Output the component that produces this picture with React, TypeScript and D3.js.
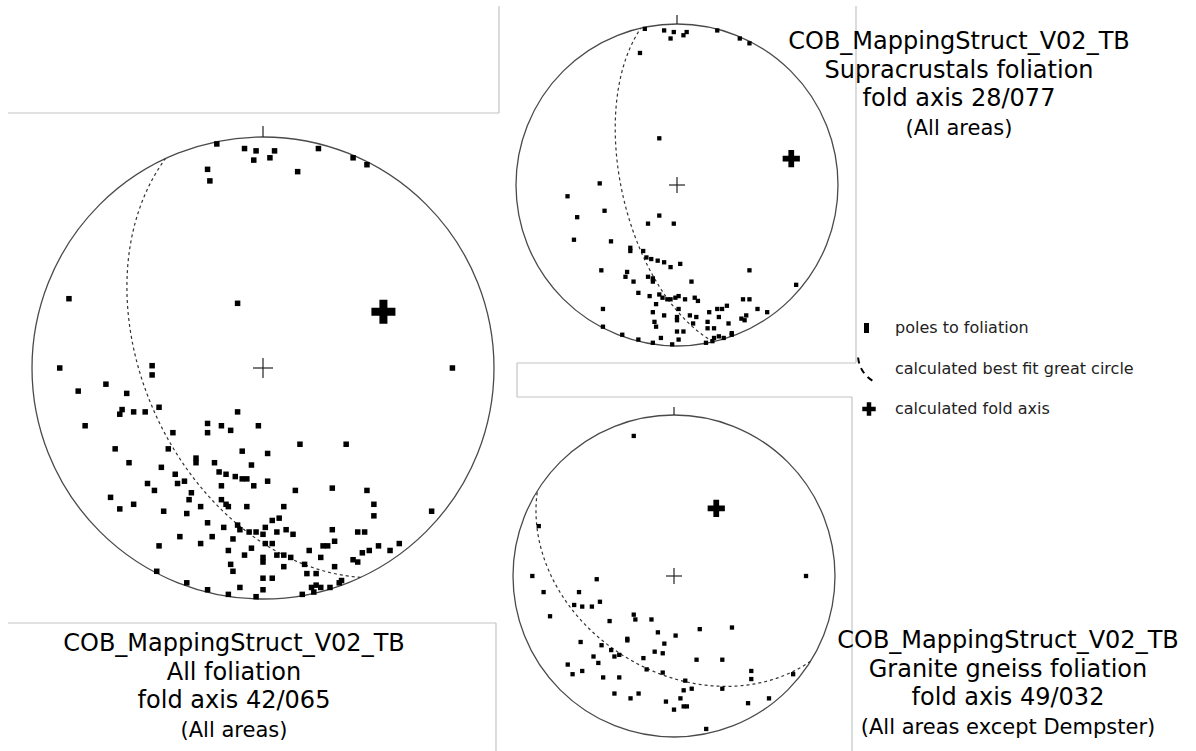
import * as React from "react";
import * as d3 from "d3";

const WIDTH = 1196;
const HEIGHT = 751;
const FONT = "'DejaVu Sans', sans-serif";

// fold axes as printed on each net: [plunge, trend]
const allAxis: [number, number] = [42, 65];
const supraAxis: [number, number] = [28, 77];
const graniteAxis: [number, number] = [49, 32];

// poles to foliation: [east, north] in units of the net radius
const allPoles: [number, number][] = [
  [-0.20, 0.97], [-0.08, 0.95], [-0.03, 0.94], [0.05, 0.94], [-0.04, 0.90], [0.03, 0.91], [-0.24, 0.86], [-0.23, 0.81],
  [0.15, 0.85], [0.24, 0.95], [0.39, 0.91], [0.45, 0.88], [-0.84, 0.30], [-0.11, 0.28], [-0.88, 0.00], [-0.48, 0.01],
  [-0.48, -0.03], [0.82, 0.00], [-0.80, -0.10], [-0.68, -0.07], [-0.59, -0.11], [-0.61, -0.18], [-0.62, -0.20], [-0.56, -0.19],
  [-0.51, -0.19], [-0.45, -0.17], [-0.77, -0.25], [-0.64, -0.35], [-0.39, -0.28], [-0.41, -0.35], [-0.58, -0.41], [-0.44, -0.43],
  [-0.11, -0.19], [-0.24, -0.24], [-0.24, -0.28], [-0.18, -0.25], [-0.14, -0.27], [-0.02, -0.25], [0.16, -0.33], [0.36, -0.33],
  [-0.09, -0.36], [0.02, -0.37], [-0.29, -0.39], [-0.29, -0.41], [-0.21, -0.41], [-0.05, -0.42], [-0.38, -0.46], [-0.19, -0.45],
  [-0.16, -0.46], [-0.12, -0.47], [-0.09, -0.48], [-0.07, -0.48], [-0.04, -0.51], [0.02, -0.49], [-0.18, -0.51], [-0.37, -0.50],
  [-0.34, -0.49], [-0.50, -0.50], [-0.47, -0.53], [-0.66, -0.56], [-0.56, -0.59], [-0.62, -0.61], [-0.43, -0.62], [-0.31, -0.54],
  [-0.32, -0.57], [-0.33, -0.63], [-0.27, -0.60], [-0.18, -0.57], [-0.16, -0.59], [-0.15, -0.60], [-0.07, -0.60], [0.09, -0.60],
  [0.14, -0.53], [0.30, -0.52], [0.45, -0.53], [0.48, -0.59], [0.48, -0.64], [0.73, -0.62], [-0.24, -0.67], [-0.17, -0.69],
  [-0.11, -0.68], [-0.10, -0.70], [-0.06, -0.71], [-0.03, -0.71], [0.01, -0.69], [0.00, -0.72], [0.04, -0.66], [0.07, -0.65],
  [0.06, -0.71], [0.10, -0.70], [0.13, -0.72], [0.30, -0.70], [0.41, -0.71], [0.44, -0.71], [-0.36, -0.73], [-0.45, -0.77],
  [-0.27, -0.76], [-0.22, -0.73], [-0.13, -0.74], [0.01, -0.76], [0.04, -0.76], [-0.15, -0.79], [-0.05, -0.78], [-0.08, -0.81],
  [0.00, -0.82], [0.00, -0.84], [0.06, -0.81], [0.09, -0.81], [0.12, -0.82], [0.09, -0.86], [0.20, -0.79], [0.26, -0.77],
  [0.28, -0.77], [0.31, -0.75], [0.25, -0.82], [0.18, -0.85], [0.31, -0.86], [0.39, -0.83], [0.41, -0.84], [0.43, -0.80],
  [0.46, -0.79], [0.50, -0.77], [0.55, -0.79], [0.59, -0.76], [-0.14, -0.85], [-0.13, -0.88], [0.00, -0.91], [0.04, -0.91],
  [0.19, -0.89], [0.23, -0.89], [0.34, -0.92], [0.33, -0.93], [-0.10, -0.95], [0.00, -0.96], [0.21, -0.95], [0.23, -0.94],
  [0.25, -0.95], [0.22, -0.97], [0.29, -0.95], [0.17, -0.98], [-0.03, -0.99], [-0.15, -0.98], [-0.24, -0.96], [-0.33, -0.93],
  [-0.46, -0.88],
];

const supraPoles: [number, number][] = [
  [-0.20, 0.97], [-0.08, 0.96], [-0.02, 0.95], [0.06, 0.95], [-0.04, 0.91], [0.04, 0.93], [0.25, 0.96], [0.39, 0.91],
  [0.45, 0.88], [-0.23, 0.82], [-0.11, 0.29], [-0.48, 0.01], [-0.68, -0.07], [-0.62, -0.20], [-0.45, -0.16], [-0.64, -0.34],
  [-0.41, -0.35], [-0.18, -0.24], [-0.11, -0.19], [-0.02, -0.24], [-0.29, -0.39], [-0.29, -0.41], [-0.21, -0.41], [-0.19, -0.45],
  [-0.16, -0.46], [-0.12, -0.47], [-0.08, -0.48], [-0.04, -0.51], [0.02, -0.49], [-0.47, -0.53], [-0.31, -0.54], [-0.32, -0.57],
  [-0.27, -0.60], [-0.18, -0.57], [-0.15, -0.58], [-0.15, -0.60], [0.09, -0.60], [0.45, -0.53], [0.74, -0.62], [-0.24, -0.67],
  [-0.17, -0.69], [-0.11, -0.68], [-0.09, -0.70], [-0.06, -0.71], [-0.04, -0.71], [-0.01, -0.70], [0.01, -0.69], [0.05, -0.71],
  [0.11, -0.70], [0.13, -0.72], [0.41, -0.71], [0.45, -0.71], [-0.13, -0.74], [-0.46, -0.77], [-0.15, -0.79], [-0.08, -0.81],
  [0.00, -0.82], [0.00, -0.84], [0.01, -0.77], [0.08, -0.81], [0.12, -0.82], [0.10, -0.86], [0.20, -0.79], [0.25, -0.77],
  [0.28, -0.77], [0.31, -0.75], [0.26, -0.82], [0.19, -0.85], [0.32, -0.86], [0.40, -0.83], [0.42, -0.84], [0.43, -0.81],
  [0.50, -0.77], [0.56, -0.79], [-0.14, -0.85], [-0.13, -0.88], [0.19, -0.89], [0.23, -0.89], [0.00, -0.91], [0.04, -0.91],
  [0.01, -0.96], [-0.10, -0.95], [-0.03, -0.99], [-0.15, -0.98], [-0.24, -0.96], [-0.34, -0.93], [-0.46, -0.88], [0.18, -0.98],
  [0.23, -0.95], [0.22, -0.97], [0.26, -0.94], [0.29, -0.95], [0.34, -0.92], [0.34, -0.93],
];

const granitePoles: [number, number][] = [
  [-0.25, 0.87], [-0.84, 0.31], [-0.88, 0.00], [-0.48, -0.02], [0.82, 0.00], [-0.81, -0.10], [-0.59, -0.10], [-0.62, -0.18],
  [-0.57, -0.19], [-0.51, -0.19], [-0.46, -0.16], [-0.77, -0.25], [-0.40, -0.28], [-0.25, -0.24], [-0.24, -0.27], [-0.14, -0.27],
  [-0.58, -0.41], [-0.29, -0.39], [-0.29, -0.40], [-0.10, -0.35], [0.01, -0.37], [0.16, -0.33], [0.36, -0.32], [-0.45, -0.43],
  [-0.39, -0.46], [-0.37, -0.50], [-0.34, -0.49], [-0.50, -0.50], [-0.47, -0.54], [-0.66, -0.55], [-0.57, -0.59], [-0.63, -0.61],
  [-0.44, -0.63], [-0.34, -0.63], [-0.19, -0.51], [-0.17, -0.58], [-0.12, -0.47], [-0.07, -0.48], [-0.06, -0.42], [-0.07, -0.60],
  [0.14, -0.52], [0.30, -0.52], [0.07, -0.65], [0.06, -0.71], [0.11, -0.70], [0.30, -0.70], [0.48, -0.59], [0.48, -0.64],
  [0.74, -0.61], [-0.37, -0.73], [-0.27, -0.76], [-0.22, -0.73], [-0.05, -0.78], [0.00, -0.83], [0.04, -0.76], [0.06, -0.81],
  [0.08, -0.81], [0.46, -0.79], [0.59, -0.76], [0.20, -0.95],
];

const allTitle = ["COB_MappingStruct_V02_TB", "All foliation", "fold axis 42/065", "(All areas)"];
const supraTitle = ["COB_MappingStruct_V02_TB", "Supracrustals foliation", "fold axis 28/077", "(All areas)"];
const graniteTitle = ["COB_MappingStruct_V02_TB", "Granite gneiss foliation", "fold axis 49/032", "(All areas except Dempster)"];

const legendLabels = ["poles to foliation", "calculated best fit great circle", "calculated fold axis"];

// light grey frame lines left over from the page layout
const frameLines = [
  [8, 113, 499, 113], [499, 6, 499, 113],
  [8, 623, 496, 623], [496, 623, 496, 751],
  [856, 6, 856, 363], [517, 363, 856, 363], [517, 363, 517, 397], [517, 397, 852, 397], [852, 397, 852, 751],
];

// plunge/trend of a line -> lon/lat on a sphere viewed from the north pole (north up, clockwise)
const toGeo = ([plunge, trend]: [number, number]): [number, number] => [180 - trend, plunge];

const Net = ({ cx, cy, r, poles, axis, tick, arm, dot, crossArea }) => {
  const x = d3.scaleLinear().domain([-1, 1]).range([cx - r, cx + r]);
  const y = d3.scaleLinear().domain([-1, 1]).range([cy + r, cy - r]);

  // Schmidt (equal area) net, lower hemisphere
  const proj = d3.geoAzimuthalEqualArea()
    .rotate([0, -90])
    .scale(r / Math.SQRT2)
    .translate([cx, cy])
    .clipAngle(90);
  const path = d3.geoPath(proj);

  const ring = d3.geoCircle().center(toGeo(axis)).radius(90).precision(1)().coordinates[0];
  const girdle = path({ type: "LineString", coordinates: ring } as any);
  const [ax, ay] = proj(toGeo(axis)) as [number, number];
  const cross = d3.symbol(d3.symbolCross, crossArea)();

  return (
    <g>
      <circle cx={cx} cy={cy} r={r} fill="none" stroke="#4a4a4a" strokeWidth={1.3} />
      <line x1={cx} x2={cx} y1={cy - r - tick} y2={cy - r} stroke="#222" strokeWidth={1.2} />
      <line x1={cx - arm} x2={cx + arm} y1={cy} y2={cy} stroke="#222" strokeWidth={1.2} />
      <line x1={cx} x2={cx} y1={cy - arm} y2={cy + arm} stroke="#222" strokeWidth={1.2} />
      <path d={girdle || ""} fill="none" stroke="#333" strokeWidth={1.2} strokeDasharray="3,3" />
      {poles.map((p, i) => (
        <rect key={i} x={x(p[0]) - dot / 2} y={y(p[1]) - dot / 2} width={dot} height={dot} fill="#000" />
      ))}
      <path d={cross} transform={`translate(${ax},${ay})`} fill="#000" />
    </g>
  );
};

const Title = ({ lines, cx, top }) => (
  <g fontFamily={FONT} textAnchor="middle" fill="#000">
    {lines.map((t, i) => (
      <text key={i} x={cx} y={top + i * 28.7} fontSize={i === 3 ? 21 : 24}>{t}</text>
    ))}
  </g>
);

const Legend = () => {
  const arc = d3.path();
  arc.arc(888, 355, 30, 2.12, Math.PI);
  const cross = d3.symbol(d3.symbolCross, 100)();
  return (
    <g fontFamily={FONT} fontSize={16} fill="#222">
      <rect x={864} y={323} width={5} height={10} fill="#000" />
      <path d={arc.toString()} fill="none" stroke="#000" strokeWidth={2} strokeDasharray="6,5" />
      <path d={cross} transform="translate(869,409)" fill="#000" />
      {legendLabels.map((t, i) => (
        <text key={i} x={895} y={333 + i * 40.5}>{t}</text>
      ))}
    </g>
  );
};

const App = () => (
  <svg width={WIDTH} height={HEIGHT} style={{ position: "absolute", left: 0, top: 0, display: "block", background: "#fff" }}>
    <rect width={WIDTH} height={HEIGHT} fill="#fff" />
    {frameLines.map((l, i) => (
      <line key={i} x1={l[0]} y1={l[1]} x2={l[2]} y2={l[3]} stroke="#c4c4c4" strokeWidth={1.2} />
    ))}
    <Net cx={263} cy={368} r={231} poles={allPoles} axis={allAxis} tick={11} arm={10} dot={5.5} crossArea={320} />
    <Net cx={677} cy={185} r={161} poles={supraPoles} axis={supraAxis} tick={9} arm={8} dot={4.3} crossArea={165} />
    <Net cx={674} cy={576} r={161} poles={granitePoles} axis={graniteAxis} tick={8} arm={8} dot={4.3} crossArea={165} />
    <Title lines={allTitle} cx={234} top={651} />
    <Title lines={supraTitle} cx={959} top={49} />
    <Title lines={graniteTitle} cx={1008} top={648} />
    <Legend />
  </svg>
);

export default App;
